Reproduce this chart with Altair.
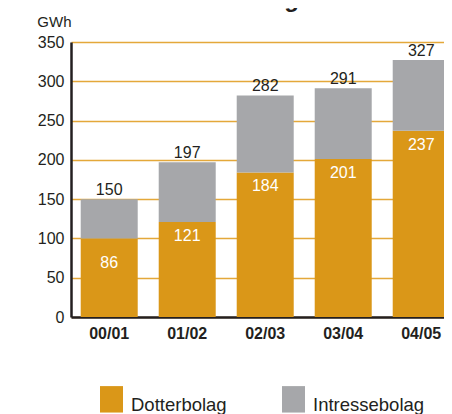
import altair as alt
import pandas as pd

years = ["00/01", "01/02", "02/03", "03/04", "04/05"]
dotter_bar = [100, 121, 184, 201, 237]      # drawn height of orange segment (as read)
totals = [150, 197, 282, 291, 327]          # top of grey segment / total label
dotter_labels = [86, 121, 184, 201, 237]    # printed values inside orange segment
series = ["Dotterbolag", "Intressebolag"]
colors = ["#DA9718", "#A6A7AA"]
title_text = ["inkl intressebolag"]
y_ticks = [0, 50, 100, 150, 200, 250, 300, 350]

FONT = "Liberation Sans"
TXT = "#231F20"

rows = []
for yr, d, t in zip(years, dotter_bar, totals):
    rows.append({"year": yr, "series": series[0], "y0": 0, "y1": d})
    rows.append({"year": yr, "series": series[1], "y0": d, "y1": t})
bars_df = pd.DataFrame(rows)
lab_df = pd.DataFrame({"year": years, "total": totals, "dlab": dotter_labels})

xscale = alt.Scale(paddingInner=0.2692, paddingOuter=0.0769, align=0.81, range=[0, 381])
xaxis = alt.Axis(
    title=None, labelAngle=0, labelFontSize=16, labelFontWeight="bold",
    labelFont=FONT, labelColor=TXT, ticks=False, labelPadding=8,
    domainColor="#231F20", domainWidth=2.5,
)
yscale = alt.Scale(domain=[0, 350], nice=False)
yaxis = alt.Axis(
    values=y_ticks,
    title="GWh", titleAngle=0, titleX=0, titleY=-16, titleAlign="right",
    titleBaseline="alphabetic", titleFontSize=15, titleFontWeight="normal",
    titleFont=FONT, titleColor=TXT,
    labelFontSize=16, labelFont=FONT, labelColor=TXT, labelPadding=7,
    ticks=False, domainColor="#231F20", domainWidth=2.5,
    grid=True, gridColor="#E4A83A", gridWidth=1.5,
)

def X():
    return alt.X("year:N", sort=years, scale=xscale, axis=xaxis)

bars = alt.Chart(bars_df).mark_bar().encode(
    x=X(),
    y=alt.Y("y1:Q", scale=yscale, axis=yaxis),
    y2="y0:Q",
    color=alt.Color(
        "series:N",
        scale=alt.Scale(domain=series, range=colors),
        legend=alt.Legend(
            orient="none", legendX=29, legendY=351, direction="horizontal",
            title=None, symbolType="M-1,-1.6H1V0.7H-1Z", symbolSize=529,
            symbolStrokeWidth=0, symbolOpacity=1, labelFontSize=18.5, labelFont=FONT,
            labelColor=TXT, labelOffset=8, columnPadding=55, padding=0,
        ),
    ),
)

tot_text = alt.Chart(lab_df).mark_text(
    baseline="alphabetic", dy=-4, fontSize=16, font=FONT, color=TXT
).encode(x=X(), y=alt.Y("total:Q", scale=yscale, axis=yaxis), text="total:Q")

dot_text = alt.Chart(lab_df).mark_text(
    baseline="alphabetic", dy=19, fontSize=16, font=FONT, color="white"
).encode(x=X(), y=alt.Y("dlab:Q", scale=yscale, axis=yaxis), text="dlab:Q")

ttl = alt.Chart(pd.DataFrame({"t": title_text})).mark_text(
    baseline="alphabetic", align="center", fontSize=24, fontWeight="bold",
    font=FONT, color=TXT
).encode(x=alt.value(126), y=alt.value(-35), text="t:N")

chart = alt.layer(bars, tot_text, dot_text, ttl).properties(
    width=365, height=275,
    autosize=alt.AutoSizeParams(type="none"),
    padding={"left": 63, "top": 34, "right": 8, "bottom": 97},
).configure_view(stroke=None)

chart.save("out.html", embed_options={"renderer": "svg", "actions": False})
